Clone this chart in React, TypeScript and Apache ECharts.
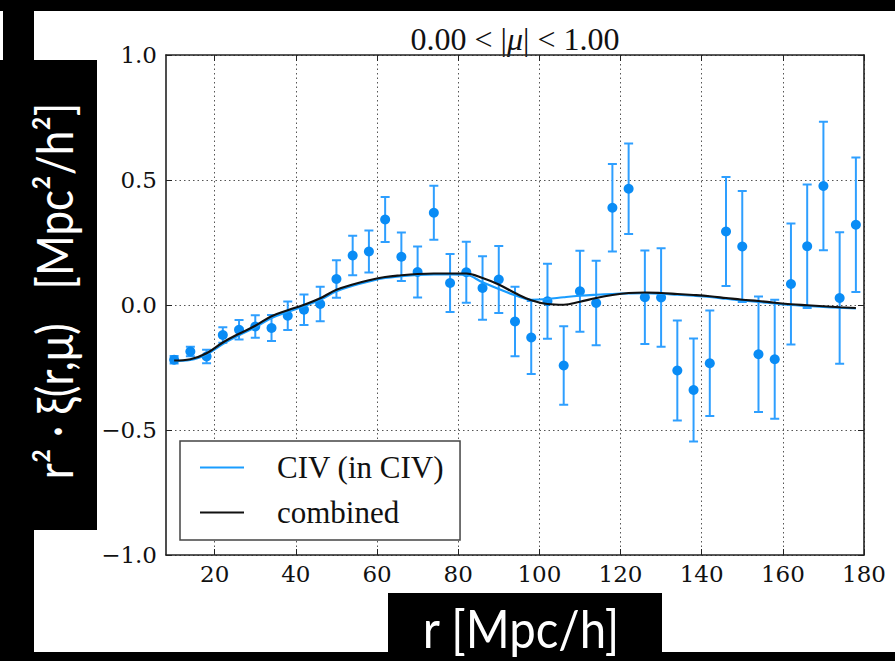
import React, { useEffect, useRef } from 'react';
import * as echarts from 'echarts';

// separation r [Mpc/h]
const rValues = [
  10, 14, 18, 22, 26, 30, 34, 38, 42, 46, 50, 54, 58, 62, 66, 70, 74, 78, 82, 86, 90, 94,
  98, 102, 106, 110, 114, 118, 122, 126, 130, 134, 138, 142, 146, 150, 154, 158, 162, 166,
  170, 174, 178,
];
// measured r^2 xi for CIV
const xiCIV = [
  -0.219, -0.186, -0.206, -0.12, -0.099, -0.086, -0.092, -0.043, -0.019, 0.004, 0.104, 0.198,
  0.214, 0.342, 0.193, 0.132, 0.369, 0.088, 0.131, 0.068, 0.102, -0.066, -0.13, 0.015, -0.242,
  0.055, 0.008, 0.389, 0.465, 0.031, 0.03, -0.262, -0.34, -0.233, 0.294, 0.234, -0.197, -0.217,
  0.084, 0.235, 0.476, 0.028, 0.321,
];
// 1-sigma errors
const xiErr = [
  0.015, 0.019, 0.027, 0.031, 0.039, 0.045, 0.052, 0.057, 0.061, 0.069, 0.075, 0.079, 0.084,
  0.09, 0.097, 0.102, 0.108, 0.116, 0.122, 0.127, 0.134, 0.139, 0.146, 0.15, 0.157, 0.162, 0.169,
  0.175, 0.181, 0.187, 0.197, 0.2, 0.206, 0.211, 0.218, 0.222, 0.231, 0.238, 0.242, 0.247, 0.257,
  0.263, 0.269,
];
// model curves
const modelCIV = [
  -0.224, -0.22, -0.198, -0.156, -0.121, -0.089, -0.052, -0.027, -0.005, 0.021, 0.055, 0.077,
  0.094, 0.108, 0.115, 0.12, 0.122, 0.122, 0.12, 0.091, 0.064, 0.039, 0.021, 0.024, 0.031, 0.037,
  0.041, 0.044, 0.046, 0.047, 0.045, 0.041, 0.037, 0.032, 0.025, 0.018, 0.012, 0.006, 0.0, -0.004,
  -0.008, -0.011, -0.014,
];
const modelCombined = [
  -0.222, -0.217, -0.193, -0.15, -0.115, -0.083, -0.045, -0.021, 0.001, 0.027, 0.061, 0.082,
  0.099, 0.112, 0.119, 0.124, 0.126, 0.126, 0.126, 0.108, 0.082, 0.048, 0.019, 0.004, 0.001,
  0.013, 0.028, 0.04, 0.048, 0.05, 0.048, 0.044, 0.04, 0.035, 0.028, 0.021, 0.016, 0.009, 0.003,
  -0.001, -0.005, -0.009, -0.012,
];
const xTicks = [20, 40, 60, 80, 100, 120, 140, 160, 180];
const yTicks = [-1, -0.5, 0, 0.5, 1];

const SERIF = 'DejaVu Serif';
const FRAME = '#222';

export default function App() {
  const ref = useRef<HTMLDivElement>(null);
  useEffect(() => {
    const chart = echarts.init(ref.current as HTMLDivElement, null, { renderer: 'svg' });
    const fmtY = (v: number) => (v < 0 ? '\u2212' : '') + Math.abs(v).toFixed(1);
    const gridLine = { show: true, lineStyle: { color: '#555', type: [1.5, 3] as any, width: 1 } };
    const tick = { show: true, inside: true, length: 6, lineStyle: { color: FRAME, width: 1 } };
    const line = { show: true, onZero: false, lineStyle: { color: FRAME, width: 1.6 } };
    const errColor = '#2e9fff';

    chart.setOption({
      animation: false,
      backgroundColor: '#ffffff',
      textStyle: { fontFamily: SERIF },
      grid: { left: 166, right: 31, top: 55, bottom: 106 },
      xAxis: [
        {
          type: 'value', min: 8, max: 180, position: 'bottom',
          axisLine: line,
          axisTick: { ...tick, customValues: xTicks },
          axisLabel: { customValues: xTicks, fontFamily: SERIF, fontSize: 23, color: '#111', margin: 7 },
          splitLine: gridLine,
        },
        {
          type: 'value', min: 8, max: 180, position: 'top',
          axisLine: line,
          axisTick: { ...tick, customValues: xTicks },
          axisLabel: { show: false },
          splitLine: { show: false },
        },
      ],
      yAxis: [
        {
          type: 'value', min: -1, max: 1, interval: 0.5, position: 'left',
          axisLine: line,
          axisTick: { ...tick, customValues: yTicks },
          axisLabel: { customValues: yTicks, formatter: fmtY, fontFamily: SERIF, fontSize: 23, color: '#111', margin: 9 },
          splitLine: gridLine,
        },
        {
          type: 'value', min: -1, max: 1, interval: 0.5, position: 'right',
          axisLine: line,
          axisTick: { ...tick, customValues: yTicks },
          axisLabel: { show: false },
          splitLine: { show: false },
        },
      ],
      legend: {
        data: [
          { name: 'CIV (in CIV)', icon: 'rect', itemStyle: { color: '#1a9dff' } },
          { name: 'combined', icon: 'rect', itemStyle: { color: '#111' } },
        ],
        orient: 'vertical',
        left: 180, top: 441,
        padding: [9, 16, 10, 20],
        itemGap: 10,
        itemWidth: 44, itemHeight: 2,
        backgroundColor: '#ffffff',
        borderColor: '#444', borderWidth: 1.5, borderRadius: 0,
        textStyle: { fontFamily: 'Liberation Serif', fontSize: 31, color: '#111', lineHeight: 35, padding: [0, 0, 0, 28] },
      },
      graphic: [
        { type: 'rect', shape: { x: 0, y: 0, width: 895, height: 11 }, style: { fill: '#000' }, silent: true },
        { type: 'rect', shape: { x: 3, y: 11, width: 31, height: 60 }, style: { fill: '#000' }, silent: true },
        { type: 'rect', shape: { x: 0, y: 60, width: 97, height: 470 }, style: { fill: '#000' }, silent: true },
        { type: 'rect', shape: { x: 0, y: 530, width: 34, height: 131 }, style: { fill: '#000' }, silent: true },
        { type: 'rect', shape: { x: 388, y: 593, width: 274, height: 68 }, style: { fill: '#000' }, silent: true },
        { type: 'rect', shape: { x: 0, y: 652, width: 895, height: 9 }, style: { fill: '#000' }, silent: true },
        {
          type: 'text', x: 54, y: 291, rotation: Math.PI / 2, scaleX: 0.88, silent: true,
          style: {
            text: 'r\u00B2 \u00B7 \u03BE(r,\u03BC)   [Mpc\u00B2/h\u00B2]',
            fill: '#fff', fontFamily: 'Lato', fontSize: 50,
            textAlign: 'center', align: 'center', textVerticalAlign: 'middle', verticalAlign: 'middle',
          },
        },
        {
          type: 'text', x: 521, y: 628, scaleX: 0.91, silent: true,
          style: {
            text: 'r [Mpc/h]', fill: '#fff', fontFamily: 'Lato', fontSize: 52,
            textAlign: 'center', align: 'center', textVerticalAlign: 'middle', verticalAlign: 'middle',
          },
        },
        {
          type: 'text', x: 515, y: 39, silent: true,
          style: {
            text: '{a|0.00 < |}{b|\u03BC}{a|| < 1.00}',
            rich: {
              a: { fontFamily: 'Liberation Serif', fontSize: 32, fill: '#111', color: '#111' },
              b: { fontFamily: 'Liberation Serif', fontStyle: 'italic', fontSize: 32, fill: '#111', color: '#111' },
            },
            fill: '#111',
            textAlign: 'center', align: 'center', textVerticalAlign: 'middle', verticalAlign: 'middle',
          },
        },
      ],
      series: [
        {
          type: 'custom',
          name: 'errors',
          dimensions: ['r', 'xi', 'err'],
          encode: { x: 0, y: 1 },
          data: rValues.map((r, i) => [r, xiCIV[i], xiErr[i]]),
          z: 2,
          renderItem: (params: any, api: any) => {
            const x = api.value(0);
            const y = api.value(1);
            const e = api.value(2);
            const top = api.coord([x, y + e]);
            const bot = api.coord([x, y - e]);
            const cw = 4.5;
            const st = { stroke: errColor, lineWidth: 2 };
            return {
              type: 'group',
              children: [
                { type: 'line', shape: { x1: top[0], y1: top[1], x2: bot[0], y2: bot[1] }, style: st },
                { type: 'line', shape: { x1: top[0] - cw, y1: top[1], x2: top[0] + cw, y2: top[1] }, style: st },
                { type: 'line', shape: { x1: bot[0] - cw, y1: bot[1], x2: bot[0] + cw, y2: bot[1] }, style: st },
              ],
            };
          },
        },
        {
          type: 'scatter',
          name: 'CIV data',
          data: rValues.map((r, i) => [r, xiCIV[i]]),
          symbolSize: 10,
          itemStyle: { color: '#0a8cf5', opacity: 1 },
          z: 3,
        },
        {
          type: 'line',
          name: 'CIV (in CIV)',
          data: rValues.map((r, i) => [r, modelCIV[i]]),
          smooth: 0.4,
          symbol: 'none',
          lineStyle: { color: '#1a9dff', width: 2.2 },
          itemStyle: { color: '#1a9dff' },
          z: 4,
        },
        {
          type: 'line',
          name: 'combined',
          data: rValues.map((r, i) => [r, modelCombined[i]]),
          smooth: 0.4,
          symbol: 'none',
          lineStyle: { color: '#111', width: 2.2 },
          itemStyle: { color: '#111' },
          z: 5,
        },
      ],
    });
    return () => chart.dispose();
  }, []);
  return <div ref={ref} style={{ position: 'absolute', left: 0, top: 0, width: 895, height: 661 }} />;
}
